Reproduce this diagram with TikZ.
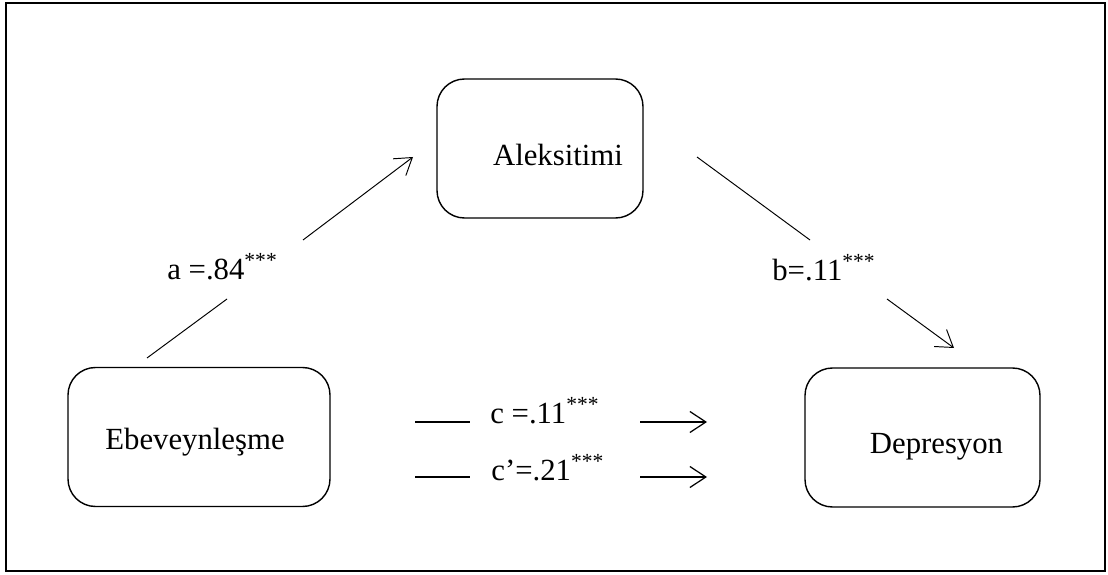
\documentclass[tikz,border=0pt]{standalone}
\usepackage{fontspec}
\setmainfont{Liberation Serif}
\usepackage{tikz}
\usetikzlibrary{arrows.meta, positioning}

\begin{document}
\begin{tikzpicture}[
    vbox/.style={draw, line width=0.8pt, rounded corners=0.55cm, minimum height=2.78cm},
    link/.style={line width=0.55pt},
    headed/.style={link, -{Straight Barb[length=0.32cm, width=0.42cm]}},
    coef/.style={anchor=base west, inner sep=0pt},
    font=\fontsize{17.5}{21}\selectfont]
    \useasboundingbox (0,0) rectangle (22.16,11.48);
    \draw[line width=1.2pt] (0.12,0.06) rectangle (22.1,11.42);

    \node[vbox, minimum width=4.12cm, label={[shift={(0.36,-0.12)}]center:Aleksitimi}] (alek) at (10.8,8.51) {};
    \node[vbox, minimum width=5.24cm, label={[shift={(-0.08,-0.10)}]center:Ebeveynleşme}] (ebev) at (3.98,2.74) {};
    \node[vbox, minimum width=4.7cm, label={[shift={(0.28,-0.19)}]center:Depresyon}] (depr) at (18.45,2.73) {};

    \node[coef] (alab) at (3.34,5.90) {a =.84\textsuperscript{***}};
    \node[coef] (blab) at (15.44,5.88) {b=.11\textsuperscript{***}};
    \node[coef] (clab) at (9.8,3.02) {c =.11\textsuperscript{***}};
    \node[coef] (cplab) at (9.82,1.88) {c’=.21\textsuperscript{***}};

    \coordinate (a1) at (2.94,4.32);
    \coordinate (a2) at (4.54,5.50);
    \coordinate (a3) at (6.06,6.68);
    \coordinate (a4) at (8.26,8.34);
    \coordinate (b1) at (13.94,8.34);
    \coordinate (b2) at (16.2,6.68);
    \coordinate (b3) at (17.74,5.5);
    \coordinate (b4) at (19.08,4.52);
    \coordinate (c1) at (8.3,3.04);
    \coordinate (c2) at (9.4,3.04);
    \coordinate (c3) at (12.8,3.04);
    \coordinate (c4) at (14.14,3.04);
    \coordinate (cp1) at (8.3,1.94);
    \coordinate (cp2) at (9.4,1.94);
    \coordinate (cp3) at (12.8,1.94);
    \coordinate (cp4) at (14.14,1.94);

    \draw[link] (a1) -- (a2);
    \draw[headed] (a3) -- (a4);
    \draw[link] (b1) -- (b2);
    \draw[headed] (b3) -- (b4);
    \draw[link, line width=0.7pt] (c1) -- (c2);
    \draw[headed, line width=0.7pt] (c3) -- (c4);
    \draw[link, line width=0.7pt] (cp1) -- (cp2);
    \draw[headed, line width=0.7pt] (cp3) -- (cp4);
\end{tikzpicture}
\end{document}
